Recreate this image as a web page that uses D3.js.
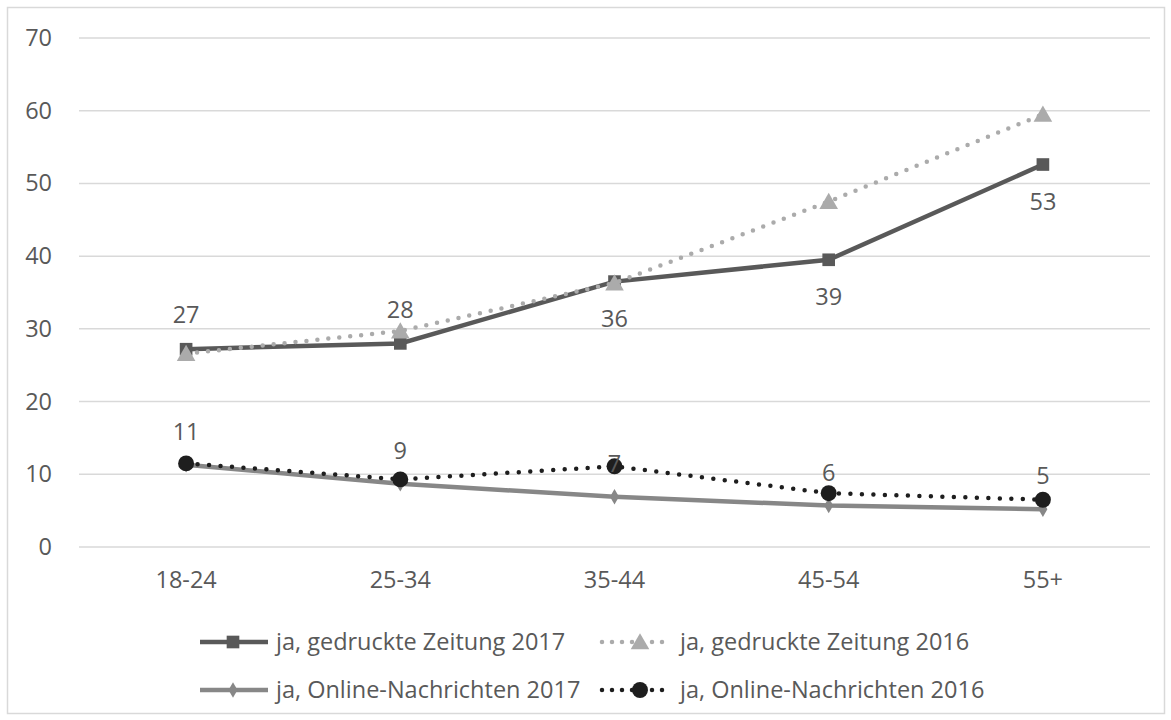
<!DOCTYPE html>
<html>
<head>
<meta charset="utf-8">
<script src="https://cdn.jsdelivr.net/npm/d3@7"></script>
<style>
  body { margin: 0; background: #fff; }
  text { font-family: "Open Sans", "Noto Sans", sans-serif; fill: #595959; }
</style>
</head>
<body>
<div id="chart"></div>
<script>
// Age groups and shares (in %)
const ageGroups = ['18-24', '25-34', '35-44', '45-54', '55+'];
const printed2017 = [27.2, 28.0, 36.5, 39.5, 52.6];
const printed2016 = [26.6, 29.7, 36.3, 47.5, 59.5];
const online2017 = [11.3, 8.7, 6.9, 5.7, 5.2];
const online2016 = [11.5, 9.3, 11.1, 7.4, 6.5];
const printedLabels = [27, 28, 36, 39, 53];
const onlineLabels = [11, 9, 7, 6, 5];
const yTicks = [0, 10, 20, 30, 40, 50, 60, 70];

const W = 1171, H = 720;
const fontSize = '23.5px';

var svg = d3.select('#chart').append('svg')
    .attr('width', W)
    .attr('height', H);

// outer chart frame
svg.append('rect')
    .attr('x', 7.5).attr('y', 7.5)
    .attr('width', 1157).attr('height', 706)
    .attr('fill', 'none')
    .attr('stroke', '#d9d9d9')
    .attr('stroke-width', 1.5);

var xScale = d3.scaleBand().domain(ageGroups).range([79, 1150]);
var yScale = d3.scaleLinear().domain([0, 70]).range([547, 38]);
var xc = function(d) { return xScale(d) + xScale.bandwidth() / 2; };

// gridlines
svg.append('g').selectAll('line')
    .data(yTicks)
    .enter().append('line')
    .attr('x1', 79).attr('x2', 1150)
    .attr('y1', d => yScale(d)).attr('y2', d => yScale(d))
    .attr('stroke', '#d9d9d9')
    .attr('stroke-width', 1.5);

// y axis labels
var yAxis = svg.append('g')
    .attr('transform', 'translate(52,0)')
    .call(d3.axisLeft(yScale).tickValues(yTicks).tickSize(0).tickPadding(0));
yAxis.select('.domain').remove();
yAxis.selectAll('text')
    .attr('font-size', fontSize)
    .attr('font-family', null)
    .attr('fill', null);

// x axis labels
var xAxis = svg.append('g')
    .attr('transform', 'translate(0,571)')
    .call(d3.axisBottom(xScale).tickSize(0).tickPadding(0));
xAxis.select('.domain').remove();
xAxis.selectAll('text')
    .attr('font-size', fontSize)
    .attr('font-family', null)
    .attr('fill', null);

var series = [
    {name: 'ja, gedruckte Zeitung 2017', values: printed2017, color: '#595959', width: 4.5, dash: null, marker: 'square'},
    {name: 'ja, gedruckte Zeitung 2016', values: printed2016, color: '#ababab', width: 4.5, dash: '0 11', marker: 'triangle'},
    {name: 'ja, Online-Nachrichten 2017', values: online2017, color: '#878787', width: 4.5, dash: null, marker: 'diamond'},
    {name: 'ja, Online-Nachrichten 2016', values: online2016, color: '#1e1e1e', width: 4.5, dash: '0 11.5', marker: 'circle'}
];

var symbols = {
    square: d3.symbol().type(d3.symbolSquare).size(160),
    triangle: d3.symbol().type(d3.symbolTriangle).size(150),
    diamond: d3.symbol().type(d3.symbolDiamond).size(70),
    circle: d3.symbol().type(d3.symbolCircle).size(200)
};

var line = d3.line()
    .x((d, i) => xc(ageGroups[i]))
    .y(d => yScale(d));

series.forEach(function(s) {
    var g = svg.append('g');
    g.append('path')
        .datum(s.values)
        .attr('d', line)
        .attr('fill', 'none')
        .attr('stroke', s.color)
        .attr('stroke-width', s.width)
        .attr('stroke-linecap', s.dash ? 'round' : 'butt')
        .attr('stroke-dasharray', s.dash);
    g.selectAll('path.mark')
        .data(s.values)
        .enter().append('path')
        .attr('class', 'mark')
        .attr('d', symbols[s.marker])
        .attr('transform', (d, i) => 'translate(' + xc(ageGroups[i]) + ',' + (yScale(d) + (s.marker === 'triangle' ? 2 : 0)) + ')')
        .attr('fill', s.color);
});

// data labels: printed 2017 (above for first two, below after)
svg.append('g').selectAll('text')
    .data(printedLabels)
    .enter().append('text')
    .attr('x', (d, i) => xc(ageGroups[i]))
    .attr('y', (d, i) => yScale(printed2017[i]) + (i < 2 ? -34 : 37))
    .attr('dy', '0.35em')
    .attr('text-anchor', 'middle')
    .attr('font-size', fontSize)
    .attr('fill', '#404040')
    .text(d => d);

// data labels: online 2017
svg.append('g').selectAll('text')
    .data(onlineLabels)
    .enter().append('text')
    .attr('x', (d, i) => xc(ageGroups[i]))
    .attr('y', (d, i) => yScale(online2017[i]) - 33)
    .attr('dy', '0.35em')
    .attr('text-anchor', 'middle')
    .attr('font-size', fontSize)
    .attr('fill', '#404040')
    .text(d => d);

// legend
var legendPos = [[198, 642], [600, 642], [198, 690], [600, 690]];
series.forEach(function(s, i) {
    var lx = legendPos[i][0], ly = legendPos[i][1];
    var g = svg.append('g').attr('transform', 'translate(' + lx + ',' + ly + ')');
    g.append('line')
        .attr('x1', 2).attr('x2', 70)
        .attr('stroke', s.color)
        .attr('stroke-width', s.width)
        .attr('stroke-linecap', s.dash ? 'round' : 'butt')
        .attr('stroke-dasharray', s.dash ? '0 10' : null);
    g.append('path')
        .attr('d', symbols[s.marker])
        .attr('transform', 'translate(' + (i % 2 === 0 ? 35 : 40) + ',' + (s.marker === 'triangle' ? 2 : 0) + ')')
        .attr('fill', s.color);
    g.append('text')
        .attr('x', i % 2 === 0 ? 78 : 80)
        .attr('dy', '0.35em')
        .attr('font-size', fontSize)
        .text(s.name);
});
</script>
</body>
</html>
